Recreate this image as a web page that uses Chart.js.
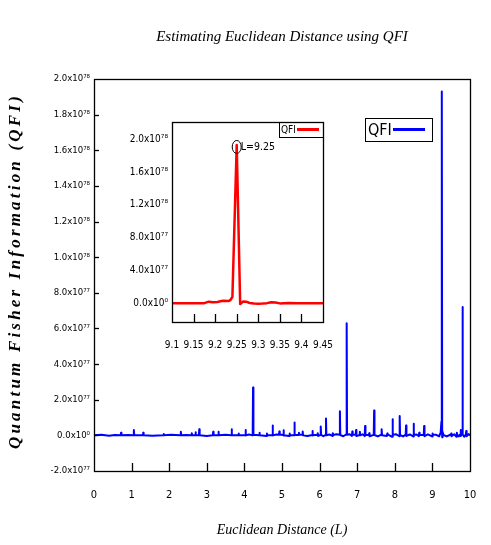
<!DOCTYPE html>
<html>
<head>
<meta charset="utf-8">
<script src="https://cdn.jsdelivr.net/npm/chart.js@4.4.1/dist/chart.umd.min.js"></script>
<style>
  body { margin: 0; background: #fff; }
  #wrap { position: relative; width: 491px; height: 545px; }
  #main { position: absolute; left: 0; top: 0; }
  #inset { position: absolute; left: 120px; top: 115px; }
</style>
</head>
<body>
<div id="wrap">
  <canvas id="main" width="491" height="545"></canvas>
  <canvas id="inset" width="220" height="245"></canvas>
</div>
<script>
const titleText = 'Estimating Euclidean Distance using QFI';
const xTitle = 'Euclidean Distance (L)';
const yTitle = 'Quantum Fisher Information (QFI)';
const seriesLabel = 'QFI';

// QFI values are in units of 1e77
const mainL = [
  0.00, 0.20, 0.40, 0.55,
  0.71, 0.72, 0.73,
  0.90,
  1.05, 1.06, 1.07,
  1.30, 1.31, 1.32,
  1.55,
  1.84, 1.85, 1.86,
  2.05,
  2.30, 2.31, 2.32,
  2.45,
  2.59, 2.60, 2.61,
  2.69, 2.70, 2.71,
  2.79, 2.80, 2.81,
  3.00,
  3.16, 3.17, 3.18,
  3.30, 3.31, 3.32,
  3.50,
  3.65, 3.66, 3.67,
  3.84, 3.85, 3.86,
  4.02, 4.03, 4.04,
  4.12,
  4.22, 4.23, 4.24,
  4.39, 4.40, 4.41,
  4.59, 4.60, 4.61,
  4.74, 4.75, 4.76,
  4.85,
  4.92, 4.93, 4.94,
  5.03, 5.04, 5.05,
  5.19, 5.20, 5.21,
  5.32, 5.33, 5.34,
  5.44, 5.45, 5.46,
  5.54, 5.55, 5.56,
  5.68,
  5.80, 5.81, 5.82,
  5.94, 5.95, 5.96,
  6.02, 6.03, 6.04,
  6.10,
  6.16, 6.17, 6.18,
  6.26,
  6.34, 6.35, 6.36,
  6.45,
  6.53, 6.54, 6.55,
  6.63,
  6.71, 6.72, 6.73,
  6.80,
  6.86, 6.87, 6.88,
  6.96, 6.97, 6.98,
  7.06, 7.07, 7.08,
  7.14,
  7.20, 7.21, 7.22,
  7.31, 7.32, 7.33,
  7.44, 7.45, 7.46,
  7.55,
  7.64, 7.65, 7.66,
  7.79, 7.80, 7.81,
  7.93, 7.94, 7.95,
  8.04,
  8.12, 8.13, 8.14,
  8.22,
  8.29, 8.30, 8.31,
  8.40,
  8.49, 8.50, 8.51,
  8.58,
  8.64, 8.65, 8.66,
  8.77, 8.78, 8.79,
  8.88,
  8.99, 9.00, 9.01,
  9.10, 9.18, 9.22,
  9.24, 9.25, 9.26, 9.27, 9.29,
  9.38,
  9.49, 9.50, 9.51,
  9.58,
  9.64, 9.65, 9.66,
  9.70,
  9.74, 9.75, 9.76,
  9.79, 9.80, 9.81,
  9.85,
  9.89, 9.90, 9.91,
  9.96, 10.00
];
const mainQFI = [
  0.00, 0.03, -0.02, 0.02,
  0.00, 0.15, 0.00,
  0.02,
  0.00, 0.30, 0.02,
  0.00, 0.15, 0.00,
  -0.02,
  0.00, 0.08, 0.00,
  0.03,
  0.00, 0.20, 0.00,
  0.02,
  0.00, 0.12, 0.02,
  0.00, 0.18, 0.00,
  0.02, 0.35, 0.00,
  -0.03,
  0.00, 0.20, 0.02,
  0.00, 0.20, 0.00,
  0.03,
  0.00, 0.35, 0.02,
  0.00, 0.10, 0.00,
  0.02, 0.30, 0.00,
  0.05,
  0.00, 2.68, 0.03,
  0.00, 0.15, 0.00,
  -0.03, 0.10, 0.00,
  0.02, 0.55, 0.00,
  0.05,
  0.03, 0.22, 0.05,
  0.02, 0.28, 0.00,
  -0.04, 0.10, 0.02,
  0.00, 0.72, 0.03,
  0.02, 0.15, 0.05,
  0.03, 0.22, 0.00,
  -0.04,
  0.02, 0.25, 0.00,
  0.03, 0.12, -0.03,
  0.02, 0.50, 0.03,
  -0.05,
  0.03, 0.95, 0.00,
  0.05,
  -0.03, 0.12, 0.02,
  0.06,
  0.03, 1.35, 0.02,
  -0.05,
  0.05, 6.29, 0.03,
  0.06,
  -0.03, 0.22, 0.05,
  0.03, 0.30, -0.04,
  0.02, 0.20, 0.00,
  0.06,
  -0.04, 0.52, 0.03,
  0.02, 0.12, -0.05,
  0.03, 1.40, 0.02,
  -0.06,
  0.04, 0.34, 0.00,
  -0.03, 0.10, 0.05,
  -0.08, 0.90, 0.03,
  0.06,
  -0.05, 1.08, 0.02,
  -0.06,
  0.04, 0.56, -0.03,
  0.05,
  -0.06, 0.65, 0.02,
  0.05,
  -0.04, 0.15, 0.03,
  0.02, 0.52, -0.05,
  0.06,
  -0.06, 0.10, 0.04,
  0.03, -0.05, 0.15,
  0.77, 19.30, -0.10, 0.20, 0.03,
  -0.06,
  0.05, 0.10, -0.05,
  0.06,
  -0.08, 0.15, 0.04,
  -0.06,
  0.05, 0.30, -0.04,
  0.08, 7.20, 0.05,
  -0.08,
  0.06, 0.25, -0.05,
  0.07, 0.00
];
const mainXTicks = [0, 1, 2, 3, 4, 5, 6, 7, 8, 9, 10];
const mainYTicks = [-2, 0, 2, 4, 6, 8, 10, 12, 14, 16, 18, 20];

// zoom around the highest peak
const insetL = [
  9.10, 9.13, 9.16, 9.175, 9.185, 9.195, 9.205, 9.215, 9.22, 9.23, 9.235, 9.24,
  9.25,
  9.258, 9.265, 9.272, 9.28, 9.29, 9.30, 9.31, 9.32, 9.33, 9.34, 9.35, 9.37,
  9.39, 9.41, 9.43, 9.45
];
const insetQFI = [
  0.00, 0.00, 0.00, 0.00, 0.18, 0.10, 0.15, 0.25, 0.30, 0.25, 0.35, 0.77,
  19.30,
  -0.10, 0.20, 0.18, 0.02, -0.05, -0.08, -0.05, 0.00, 0.12, 0.08, -0.03, 0.02,
  -0.02, 0.00, 0.00, 0.00
];
const insetXTicks = [9.1, 9.15, 9.2, 9.25, 9.3, 9.35, 9.4, 9.45];
const insetYTicks = [0, 4, 8, 12, 16, 20];
const peakL = 9.25, peakQFI = 19.3, peakText = 'L=9.25';

const narrow = "'Liberation Sans Narrow', 'DejaVu Sans Condensed', sans-serif";
const serif = "'Liberation Serif', 'DejaVu Serif', serif";

// 2 -> "2.0x10⁷⁷", 12 -> "1.2x10⁷⁸"
function sci(v) {
  if (Math.abs(v) < 1e-9) return '0.0x10\u2070';
  if (Math.abs(v) >= 10) return (v / 10).toFixed(1) + 'x10\u2077\u2078';
  return v.toFixed(1) + 'x10\u2077\u2077';
}

function line(ctx, x1, y1, x2, y2) {
  ctx.beginPath();
  ctx.moveTo(x1, y1);
  ctx.lineTo(x2, y2);
  ctx.stroke();
}

// keep the plot box exactly where layout.padding puts it
function noOverflowX(s) { s.paddingLeft = 0; s.paddingRight = 0; }
function noOverflowY(s) { s.paddingTop = 0; s.paddingBottom = 0; }

// gnuplot look: closed box, ticks pointing inwards, boxed key, notes
const frame = {
  id: 'frame',
  afterDraw(chart, args, o) {
    const ctx = chart.ctx, a = chart.chartArea;
    const xs = chart.scales.x, ys = chart.scales.y;
    ctx.save();
    ctx.strokeStyle = '#000';
    ctx.lineWidth = 1.3;
    ctx.strokeRect(Math.round(a.left) + 0.5, Math.round(a.top) + 0.5,
      Math.round(a.right - a.left), Math.round(a.bottom - a.top));

    xs.ticks.forEach(t => {
      if (t.value <= xs.min || t.value >= xs.max) return;
      const px = Math.round(xs.getPixelForValue(t.value)) + 0.5;
      line(ctx, px, a.bottom, px, a.bottom - o.xTick);
    });
    if (o.yTick) ys.ticks.forEach(t => {
      if (t.value <= ys.min || t.value >= ys.max) return;
      const py = Math.round(ys.getPixelForValue(t.value)) + 0.5;
      line(ctx, a.left, py, a.left + o.yTick, py);
    });

    if (o.legend) {
      const L = o.legend, ds = chart.data.datasets[0];
      const mid = L.y + L.h / 2;
      ctx.lineWidth = 1;
      ctx.strokeRect(L.x + 0.5, L.y + 0.5, L.w, L.h);
      ctx.fillStyle = '#000';
      ctx.font = L.font;
      ctx.textBaseline = 'middle';
      ctx.textAlign = 'left';
      ctx.fillText(ds.label, L.x + L.pad, mid + 1);
      ctx.strokeStyle = ds.borderColor;
      ctx.lineWidth = 3;
      line(ctx, L.x + L.from, mid, L.x + L.to, mid);
    }

    if (o.note) {
      const n = o.note;
      const px = xs.getPixelForValue(n.x), py = ys.getPixelForValue(n.y) + n.dy;
      ctx.strokeStyle = '#000';
      ctx.lineWidth = 1;
      ctx.beginPath();
      ctx.ellipse(px, py, 4.5, 6.5, 0, 0, Math.PI * 2);
      ctx.stroke();
      ctx.fillStyle = '#000';
      ctx.font = n.font;
      ctx.textBaseline = 'middle';
      ctx.textAlign = 'left';
      ctx.fillText(n.text, px + 4, py);
    }

    if (o.yTitle) {
      const t = o.yTitle;
      ctx.translate(t.x, (a.top + a.bottom) / 2 + t.dy);
      ctx.rotate(-Math.PI / 2);
      ctx.fillStyle = '#000';
      ctx.font = t.font;
      ctx.letterSpacing = t.spacing;
      ctx.textAlign = 'center';
      ctx.textBaseline = 'middle';
      ctx.fillText(t.text, 0, 0);
      ctx.letterSpacing = '0px';
    }
    ctx.restore();
  }
};

function points(xs, ys) {
  return xs.map((x, i) => ({ x: x, y: ys[i] }));
}

new Chart(document.getElementById('main'), {
  type: 'line',
  data: {
    datasets: [{
      label: seriesLabel,
      data: points(mainL, mainQFI),
      borderColor: '#0000ff',
      borderWidth: 2,
      borderJoinStyle: 'round',
      pointRadius: 0,
      tension: 0
    }]
  },
  options: {
    responsive: false,
    animation: false,
    devicePixelRatio: 1,
    layout: { padding: { top: 0, right: 21, bottom: 0, left: 0 } },
    plugins: {
      legend: { display: false },
      tooltip: { enabled: false },
      title: {
        display: true,
        text: titleText,
        fullSize: false,
        color: '#000',
        font: { family: serif, size: 15, style: 'italic', weight: 'normal' },
        padding: { top: 28, bottom: 33 }
      },
      frame: {
        xTick: 8,
        yTick: 5,
        legend: { x: 365, y: 118, w: 67, h: 23, pad: 3, from: 28, to: 60, font: '16px ' + narrow },
        yTitle: { x: 16, dy: -4, text: yTitle, spacing: '3.2px', font: 'italic bold 17px ' + serif }
      }
    },
    scales: {
      x: {
        type: 'linear',
        min: 0,
        max: 10,
        afterBuildTicks: s => { s.ticks = mainXTicks.map(v => ({ value: v })); },
        afterFit: s => { s.height = 74; noOverflowX(s); },
        ticks: { color: '#000', font: { family: narrow, size: 11 }, padding: 18, maxRotation: 0, autoSkip: false, callback: v => String(v) },
        grid: { display: false, drawTicks: false },
        border: { display: false },
        title: {
          display: true,
          text: xTitle,
          color: '#000',
          font: { family: serif, size: 14, style: 'italic' },
          padding: { top: 0, bottom: 6 }
        }
      },
      y: {
        type: 'linear',
        min: -2,
        max: 20,
        afterBuildTicks: s => { s.ticks = mainYTicks.map(v => ({ value: v })); },
        afterFit: s => { s.width = 94; noOverflowY(s); },
        ticks: { color: '#000', font: { family: narrow, size: 9.5 }, padding: 4, autoSkip: false, callback: sci },
        grid: { display: false, drawTicks: false },
        border: { display: false }
      }
    }
  },
  plugins: [frame]
});

new Chart(document.getElementById('inset'), {
  type: 'line',
  data: {
    datasets: [{
      label: seriesLabel,
      data: points(insetL, insetQFI),
      borderColor: '#ff0000',
      borderWidth: 2.5,
      borderJoinStyle: 'round',
      pointRadius: 0,
      tension: 0
    }]
  },
  options: {
    responsive: false,
    animation: false,
    devicePixelRatio: 1,
    layout: { padding: { top: 7, right: 17, bottom: 0, left: 0 } },
    plugins: {
      legend: { display: false },
      tooltip: { enabled: false },
      frame: {
        xTick: 8,
        yTick: 0,
        legend: { x: 159, y: 7, w: 44, h: 15, pad: 2, from: 18, to: 40, font: '10px ' + narrow },
        note: { x: peakL, y: peakQFI, dy: 2, text: peakText, font: '10.5px ' + narrow }
      }
    },
    scales: {
      x: {
        type: 'linear',
        min: 9.1,
        max: 9.45,
        afterBuildTicks: s => { s.ticks = insetXTicks.map(v => ({ value: v })); },
        afterFit: s => { s.height = 38; noOverflowX(s); },
        ticks: { color: '#000', font: { family: narrow, size: 10 }, padding: 17, maxRotation: 0, autoSkip: false, callback: v => String(+v.toFixed(2)) },
        grid: { display: false, drawTicks: false },
        border: { display: false }
      },
      y: {
        type: 'linear',
        min: -2.3,
        max: 22.1,
        afterBuildTicks: s => { s.ticks = insetYTicks.map(v => ({ value: v })); },
        afterFit: s => { s.width = 52; noOverflowY(s); },
        ticks: { color: '#000', font: { family: narrow, size: 10 }, padding: 4, autoSkip: false, callback: sci },
        grid: { display: false, drawTicks: false },
        border: { display: false }
      }
    }
  },
  plugins: [frame]
});
</script>
</body>
</html>
